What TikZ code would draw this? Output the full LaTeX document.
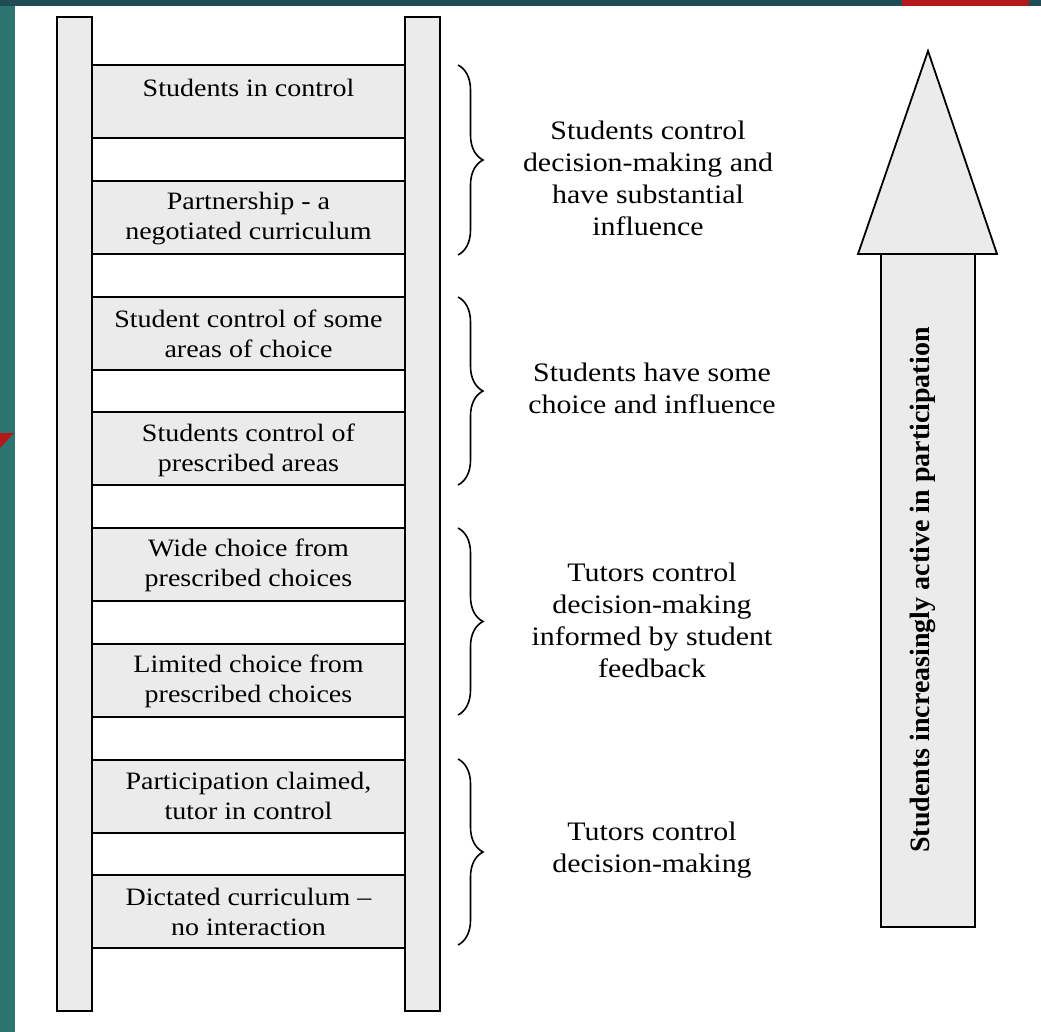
\documentclass[tikz,border=0pt]{standalone}
\usepackage{fontspec}
\setmainfont[FakeStretch=1.12]{Liberation Serif}
\newfontfamily\vfont{Liberation Serif}
\usetikzlibrary{decorations.pathreplacing}
\definecolor{tealA}{HTML}{2C7470}
\definecolor{tealB}{HTML}{1F4C55}
\definecolor{redbar}{HTML}{B3191B}
\definecolor{boxgray}{HTML}{EBEBEB}
\begin{document}
\begin{tikzpicture}[x=1pt,y=-1pt,
  rail/.style={draw=black,line width=1.8pt,fill=boxgray,rectangle,inner sep=0pt,minimum width=35pt,minimum height=994pt},
  rung/.style={draw=black,line width=1.8pt,fill=boxgray,rectangle,inner sep=0pt,minimum width=313pt,minimum height=73pt},
  rungtext/.style={align=center,font=\fontsize{25}{30}\selectfont,inner sep=0pt},
  sidetext/.style={align=center,font=\fontsize{26.7}{32}\selectfont,inner sep=0pt},
  bracestyle/.style={decorate,decoration={brace,amplitude=25pt},line width=1.6pt},
  arrowpart/.style={draw=black,line width=1.8pt,fill=boxgray}]
% background
\useasboundingbox (0,0) rectangle (1041,1032);
\fill[tealA] (0,0) rectangle (1041,1032);
\fill[tealB] (0,0) rectangle (1041,6);
\fill[redbar] (902,0) rectangle (1029,6);
\fill[redbar] (0,433) -- (14,433) -- (0,448) -- cycle;
\fill[white] (15,6) rectangle (1041,1032);
% rails
\node[rail] (lrail) at (74.5,514) {};
\node[rail] (rrail) at (422.5,514) {};
% rungs
\foreach \i/\t in {1/65,2/181,3/297,4/412,5/528,6/644,7/760,8/875}{
  \node[rung] (rung\i) at (248.5,\t+36.5) {};
}
\node[rungtext] (t1) at (248.5,88) {Students in control};
\node[rungtext] (t2) at (248.5,219) {Partnership - a\\negotiated curriculum};
\node[rungtext] (t3) at (248.5,334) {Student control of some\\areas of choice};
\node[rungtext] (t4) at (248.5,450) {Students control of\\prescribed areas};
\node[rungtext] (t5) at (248.5,565) {Wide choice from\\prescribed choices};
\node[rungtext] (t6) at (248.5,681) {Limited choice from\\prescribed choices};
\node[rungtext] (t7) at (248.5,796) {Participation claimed,\\tutor in control};
\node[rungtext] (t8) at (248.5,912) {Dictated curriculum --\\no interaction};
% braces
\coordinate (b1t) at (458,65);  \coordinate (b1b) at (458,255);
\coordinate (b2t) at (458,297); \coordinate (b2b) at (458,485);
\coordinate (b3t) at (458,528); \coordinate (b3b) at (458,715);
\coordinate (b4t) at (458,759); \coordinate (b4b) at (458,945);
\draw[bracestyle] (b1t) -- (b1b);
\draw[bracestyle] (b2t) -- (b2b);
\draw[bracestyle] (b3t) -- (b3b);
\draw[bracestyle] (b4t) -- (b4b);
% side texts
\node[sidetext] (s1) at (648,178) {Students control\\decision-making and\\have substantial\\influence};
\node[sidetext] (s2) at (652,388) {Students have some\\choice and influence};
\node[sidetext] (s3) at (652,620) {Tutors control\\decision-making\\informed by student\\feedback};
\node[sidetext] (s4) at (652,850) {Tutors control\\decision-making};
% arrow
\node[arrowpart,rectangle,inner sep=0pt,minimum width=94pt,minimum height=673pt] (shaft) at (928,590.5) {};
\coordinate (apex) at (928,51);
\coordinate (bl) at (858,254);
\coordinate (br) at (997,254);
\draw[arrowpart,line join=miter] (bl) -- (apex) -- (br) -- cycle;
\node[rotate=90,font=\vfont\bfseries\fontsize{28}{30}\selectfont,inner sep=0pt] (vtext) at (923,590) {Students increasingly active in participation};
\end{tikzpicture}
\end{document}
